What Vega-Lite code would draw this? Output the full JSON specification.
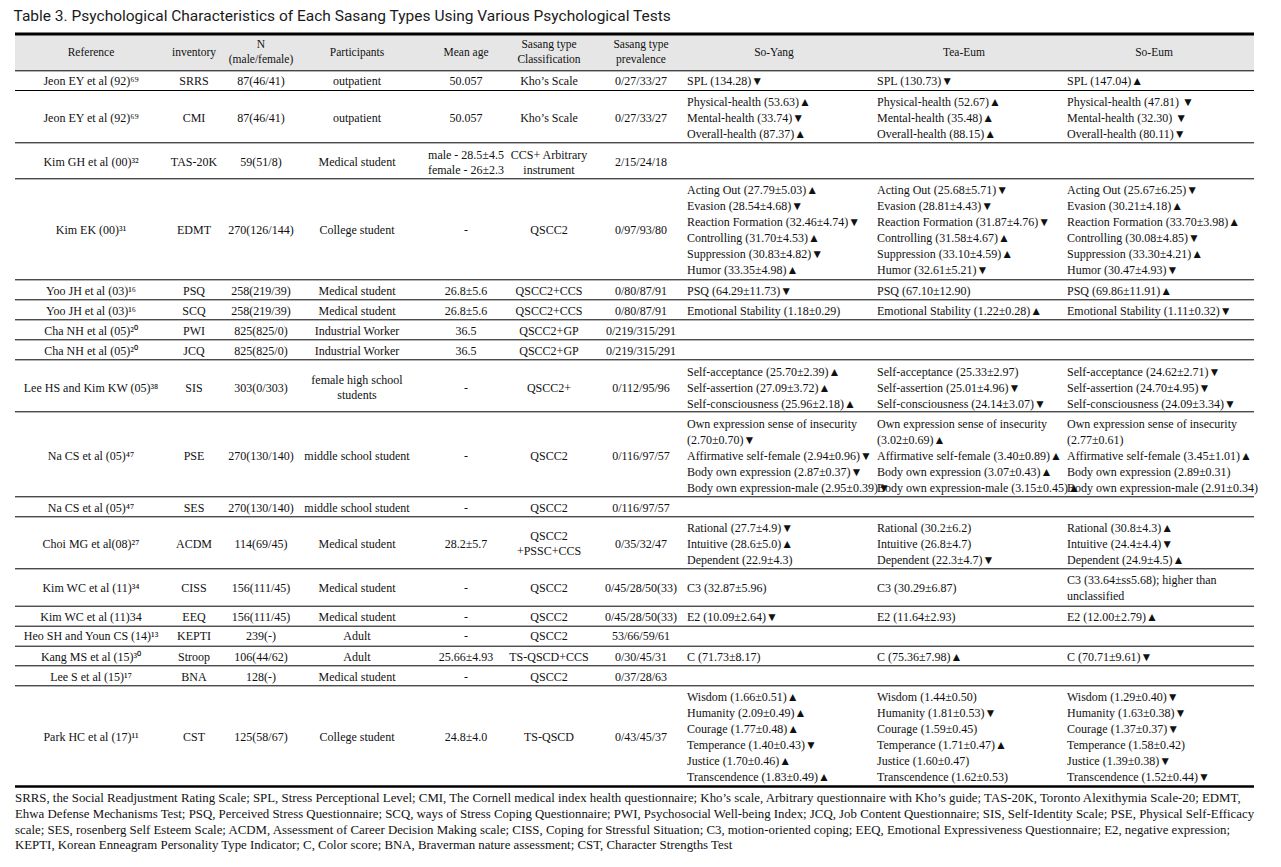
{
  "$schema": "https://vega.github.io/schema/vega-lite/v6.json",
  "background": "white",
  "padding": {"left": 13, "top": 8, "right": 0, "bottom": 0},
  "config": {"view": {"stroke": null}},
  "title": {
    "text": "Table 3. Psychological Characteristics of Each Sasang Types Using Various Psychological Tests",
    "anchor": "start", "font": "Roboto", "fontSize": 15.5, "fontWeight": "normal", "color": "#1a1a1a", "offset": 8.5
  },
  "datasets": {
    "cells": [
      {"r": 0, "c": 0, "lines": ["Reference"]},
      {"r": 0, "c": 1, "lines": ["inventory"]},
      {"r": 0, "c": 2, "lines": ["N", "(male/female)"]},
      {"r": 0, "c": 3, "lines": ["Participants"]},
      {"r": 0, "c": 4, "lines": ["Mean age"]},
      {"r": 0, "c": 5, "lines": ["Sasang type", "Classification"]},
      {"r": 0, "c": 6, "lines": ["Sasang type", "prevalence"]},
      {"r": 0, "c": 7, "lines": ["So-Yang"]},
      {"r": 0, "c": 8, "lines": ["Tea-Eum"]},
      {"r": 0, "c": 9, "lines": ["So-Eum"]},

      {"r": 1, "c": 0, "lines": ["Jeon EY et al (92)⁶⁹"]},
      {"r": 1, "c": 1, "lines": ["SRRS"]},
      {"r": 1, "c": 2, "lines": ["87(46/41)"]},
      {"r": 1, "c": 3, "lines": ["outpatient"]},
      {"r": 1, "c": 4, "lines": ["50.057"]},
      {"r": 1, "c": 5, "lines": ["Kho’s Scale"]},
      {"r": 1, "c": 6, "lines": ["0/27/33/27"]},
      {"r": 1, "c": 7, "lines": ["SPL (134.28)▼"]},
      {"r": 1, "c": 8, "lines": ["SPL (130.73)▼"]},
      {"r": 1, "c": 9, "lines": ["SPL (147.04)▲"]},

      {"r": 2, "c": 0, "lines": ["Jeon EY et al (92)⁶⁹"]},
      {"r": 2, "c": 1, "lines": ["CMI"]},
      {"r": 2, "c": 2, "lines": ["87(46/41)"]},
      {"r": 2, "c": 3, "lines": ["outpatient"]},
      {"r": 2, "c": 4, "lines": ["50.057"]},
      {"r": 2, "c": 5, "lines": ["Kho’s Scale"]},
      {"r": 2, "c": 6, "lines": ["0/27/33/27"]},
      {"r": 2, "c": 7, "lines": ["Physical-health (53.63)▲", "Mental-health (33.74)▼", "Overall-health (87.37)▲"]},
      {"r": 2, "c": 8, "lines": ["Physical-health (52.67)▲", "Mental-health (35.48)▲", "Overall-health (88.15)▲"]},
      {"r": 2, "c": 9, "lines": ["Physical-health (47.81) ▼", "Mental-health (32.30) ▼", "Overall-health (80.11)▼"]},

      {"r": 3, "c": 0, "lines": ["Kim GH et al (00)³²"]},
      {"r": 3, "c": 1, "lines": ["TAS-20K"]},
      {"r": 3, "c": 2, "lines": ["59(51/8)"]},
      {"r": 3, "c": 3, "lines": ["Medical student"]},
      {"r": 3, "c": 4, "lines": ["male - 28.5±4.5", "female - 26±2.3"]},
      {"r": 3, "c": 5, "lines": ["CCS+ Arbitrary", "instrument"]},
      {"r": 3, "c": 6, "lines": ["2/15/24/18"]},

      {"r": 4, "c": 0, "lines": ["Kim EK (00)³¹"]},
      {"r": 4, "c": 1, "lines": ["EDMT"]},
      {"r": 4, "c": 2, "lines": ["270(126/144)"]},
      {"r": 4, "c": 3, "lines": ["College student"]},
      {"r": 4, "c": 4, "lines": ["-"]},
      {"r": 4, "c": 5, "lines": ["QSCC2"]},
      {"r": 4, "c": 6, "lines": ["0/97/93/80"]},
      {"r": 4, "c": 7, "lines": ["Acting Out (27.79±5.03)▲", "Evasion (28.54±4.68)▼", "Reaction Formation (32.46±4.74)▼", "Controlling (31.70±4.53)▲", "Suppression (30.83±4.82)▼", "Humor (33.35±4.98)▲"]},
      {"r": 4, "c": 8, "lines": ["Acting Out (25.68±5.71)▼", "Evasion (28.81±4.43)▼", "Reaction Formation (31.87±4.76)▼", "Controlling (31.58±4.67)▲", "Suppression (33.10±4.59)▲", "Humor (32.61±5.21)▼"]},
      {"r": 4, "c": 9, "lines": ["Acting Out (25.67±6.25)▼", "Evasion (30.21±4.18)▲", "Reaction Formation (33.70±3.98)▲", "Controlling (30.08±4.85)▼", "Suppression (33.30±4.21)▲", "Humor (30.47±4.93)▼"]},

      {"r": 5, "c": 0, "lines": ["Yoo JH et al  (03)¹⁶"]},
      {"r": 5, "c": 1, "lines": ["PSQ"]},
      {"r": 5, "c": 2, "lines": ["258(219/39)"]},
      {"r": 5, "c": 3, "lines": ["Medical student"]},
      {"r": 5, "c": 4, "lines": ["26.8±5.6"]},
      {"r": 5, "c": 5, "lines": ["QSCC2+CCS"]},
      {"r": 5, "c": 6, "lines": ["0/80/87/91"]},
      {"r": 5, "c": 7, "lines": ["PSQ (64.29±11.73)▼"]},
      {"r": 5, "c": 8, "lines": ["PSQ (67.10±12.90)"]},
      {"r": 5, "c": 9, "lines": ["PSQ (69.86±11.91)▲"]},

      {"r": 6, "c": 0, "lines": ["Yoo JH et al (03)¹⁶"]},
      {"r": 6, "c": 1, "lines": ["SCQ"]},
      {"r": 6, "c": 2, "lines": ["258(219/39)"]},
      {"r": 6, "c": 3, "lines": ["Medical student"]},
      {"r": 6, "c": 4, "lines": ["26.8±5.6"]},
      {"r": 6, "c": 5, "lines": ["QSCC2+CCS"]},
      {"r": 6, "c": 6, "lines": ["0/80/87/91"]},
      {"r": 6, "c": 7, "lines": ["Emotional Stability (1.18±0.29)"]},
      {"r": 6, "c": 8, "lines": ["Emotional Stability (1.22±0.28)▲"]},
      {"r": 6, "c": 9, "lines": ["Emotional Stability (1.11±0.32)▼"]},

      {"r": 7, "c": 0, "lines": ["Cha NH et al (05)²⁰"]},
      {"r": 7, "c": 1, "lines": ["PWI"]},
      {"r": 7, "c": 2, "lines": ["825(825/0)"]},
      {"r": 7, "c": 3, "lines": ["Industrial Worker"]},
      {"r": 7, "c": 4, "lines": ["36.5"]},
      {"r": 7, "c": 5, "lines": ["QSCC2+GP"]},
      {"r": 7, "c": 6, "lines": ["0/219/315/291"]},

      {"r": 8, "c": 0, "lines": ["Cha NH et al (05)²⁰"]},
      {"r": 8, "c": 1, "lines": ["JCQ"]},
      {"r": 8, "c": 2, "lines": ["825(825/0)"]},
      {"r": 8, "c": 3, "lines": ["Industrial Worker"]},
      {"r": 8, "c": 4, "lines": ["36.5"]},
      {"r": 8, "c": 5, "lines": ["QSCC2+GP"]},
      {"r": 8, "c": 6, "lines": ["0/219/315/291"]},

      {"r": 9, "c": 0, "lines": ["Lee HS and Kim KW (05)³⁸"]},
      {"r": 9, "c": 1, "lines": ["SIS"]},
      {"r": 9, "c": 2, "lines": ["303(0/303)"]},
      {"r": 9, "c": 3, "lines": ["female high school", "students"]},
      {"r": 9, "c": 4, "lines": ["-"]},
      {"r": 9, "c": 5, "lines": ["QSCC2+"]},
      {"r": 9, "c": 6, "lines": ["0/112/95/96"]},
      {"r": 9, "c": 7, "lines": ["Self-acceptance (25.70±2.39)▲", "Self-assertion (27.09±3.72)▲", "Self-consciousness (25.96±2.18)▲"]},
      {"r": 9, "c": 8, "lines": ["Self-acceptance (25.33±2.97)", "Self-assertion (25.01±4.96)▼", "Self-consciousness (24.14±3.07)▼"]},
      {"r": 9, "c": 9, "lines": ["Self-acceptance (24.62±2.71)▼", "Self-assertion (24.70±4.95)▼", "Self-consciousness (24.09±3.34)▼"]},

      {"r": 10, "c": 0, "lines": ["Na CS et al (05)⁴⁷"]},
      {"r": 10, "c": 1, "lines": ["PSE"]},
      {"r": 10, "c": 2, "lines": ["270(130/140)"]},
      {"r": 10, "c": 3, "lines": ["middle school student"]},
      {"r": 10, "c": 4, "lines": ["-"]},
      {"r": 10, "c": 5, "lines": ["QSCC2"]},
      {"r": 10, "c": 6, "lines": ["0/116/97/57"]},
      {"r": 10, "c": 7, "lines": ["Own expression sense of insecurity", "(2.70±0.70)▼", "Affirmative self-female (2.94±0.96)▼", "Body own expression (2.87±0.37)▼", "Body own expression-male (2.95±0.39)▼"]},
      {"r": 10, "c": 8, "lines": ["Own expression sense of insecurity", "(3.02±0.69)▲", "Affirmative self-female (3.40±0.89)▲", "Body own expression (3.07±0.43)▲", "Body own expression-male (3.15±0.45)▲"]},
      {"r": 10, "c": 9, "lines": ["Own expression sense of insecurity", "(2.77±0.61)", "Affirmative self-female (3.45±1.01)▲", "Body own expression (2.89±0.31)", "Body own expression-male (2.91±0.34)"]},

      {"r": 11, "c": 0, "lines": ["Na CS et al (05)⁴⁷"]},
      {"r": 11, "c": 1, "lines": ["SES"]},
      {"r": 11, "c": 2, "lines": ["270(130/140)"]},
      {"r": 11, "c": 3, "lines": ["middle school student"]},
      {"r": 11, "c": 4, "lines": ["-"]},
      {"r": 11, "c": 5, "lines": ["QSCC2"]},
      {"r": 11, "c": 6, "lines": ["0/116/97/57"]},

      {"r": 12, "c": 0, "lines": ["Choi MG et al(08)²⁷"]},
      {"r": 12, "c": 1, "lines": ["ACDM"]},
      {"r": 12, "c": 2, "lines": ["114(69/45)"]},
      {"r": 12, "c": 3, "lines": ["Medical student"]},
      {"r": 12, "c": 4, "lines": ["28.2±5.7"]},
      {"r": 12, "c": 5, "lines": ["QSCC2", "+PSSC+CCS"]},
      {"r": 12, "c": 6, "lines": ["0/35/32/47"]},
      {"r": 12, "c": 7, "lines": ["Rational (27.7±4.9)▼", "Intuitive (28.6±5.0)▲", "Dependent (22.9±4.3)"]},
      {"r": 12, "c": 8, "lines": ["Rational (30.2±6.2)", "Intuitive (26.8±4.7)", "Dependent (22.3±4.7)▼"]},
      {"r": 12, "c": 9, "lines": ["Rational (30.8±4.3)▲", "Intuitive (24.4±4.4)▼", "Dependent (24.9±4.5)▲"]},

      {"r": 13, "c": 0, "lines": ["Kim WC et al  (11)³⁴"]},
      {"r": 13, "c": 1, "lines": ["CISS"]},
      {"r": 13, "c": 2, "lines": ["156(111/45)"]},
      {"r": 13, "c": 3, "lines": ["Medical student"]},
      {"r": 13, "c": 4, "lines": ["-"]},
      {"r": 13, "c": 5, "lines": ["QSCC2"]},
      {"r": 13, "c": 6, "lines": ["0/45/28/50(33)"]},
      {"r": 13, "c": 7, "lines": ["C3 (32.87±5.96)"]},
      {"r": 13, "c": 8, "lines": ["C3 (30.29±6.87)"]},
      {"r": 13, "c": 9, "lines": ["C3 (33.64±ss5.68); higher than", "unclassified"]},

      {"r": 14, "c": 0, "lines": ["Kim WC et al (11)34"]},
      {"r": 14, "c": 1, "lines": ["EEQ"]},
      {"r": 14, "c": 2, "lines": ["156(111/45)"]},
      {"r": 14, "c": 3, "lines": ["Medical student"]},
      {"r": 14, "c": 4, "lines": ["-"]},
      {"r": 14, "c": 5, "lines": ["QSCC2"]},
      {"r": 14, "c": 6, "lines": ["0/45/28/50(33)"]},
      {"r": 14, "c": 7, "lines": ["E2 (10.09±2.64)▼"]},
      {"r": 14, "c": 8, "lines": ["E2 (11.64±2.93)"]},
      {"r": 14, "c": 9, "lines": ["E2 (12.00±2.79)▲"]},

      {"r": 15, "c": 0, "lines": ["Heo SH and Youn CS (14)¹³"]},
      {"r": 15, "c": 1, "lines": ["KEPTI"]},
      {"r": 15, "c": 2, "lines": ["239(-)"]},
      {"r": 15, "c": 3, "lines": ["Adult"]},
      {"r": 15, "c": 4, "lines": ["-"]},
      {"r": 15, "c": 5, "lines": ["QSCC2"]},
      {"r": 15, "c": 6, "lines": ["53/66/59/61"]},

      {"r": 16, "c": 0, "lines": ["Kang MS et al (15)³⁰"]},
      {"r": 16, "c": 1, "lines": ["Stroop"]},
      {"r": 16, "c": 2, "lines": ["106(44/62)"]},
      {"r": 16, "c": 3, "lines": ["Adult"]},
      {"r": 16, "c": 4, "lines": ["25.66±4.93"]},
      {"r": 16, "c": 5, "lines": ["TS-QSCD+CCS"]},
      {"r": 16, "c": 6, "lines": ["0/30/45/31"]},
      {"r": 16, "c": 7, "lines": ["C (71.73±8.17)"]},
      {"r": 16, "c": 8, "lines": ["C (75.36±7.98)▲"]},
      {"r": 16, "c": 9, "lines": ["C (70.71±9.61)▼"]},

      {"r": 17, "c": 0, "lines": ["Lee S et al (15)¹⁷"]},
      {"r": 17, "c": 1, "lines": ["BNA"]},
      {"r": 17, "c": 2, "lines": ["128(-)"]},
      {"r": 17, "c": 3, "lines": ["Medical student"]},
      {"r": 17, "c": 4, "lines": ["-"]},
      {"r": 17, "c": 5, "lines": ["QSCC2"]},
      {"r": 17, "c": 6, "lines": ["0/37/28/63"]},

      {"r": 18, "c": 0, "lines": ["Park HC et al (17)¹¹"]},
      {"r": 18, "c": 1, "lines": ["CST"]},
      {"r": 18, "c": 2, "lines": ["125(58/67)"]},
      {"r": 18, "c": 3, "lines": ["College student"]},
      {"r": 18, "c": 4, "lines": ["24.8±4.0"]},
      {"r": 18, "c": 5, "lines": ["TS-QSCD"]},
      {"r": 18, "c": 6, "lines": ["0/43/45/37"]},
      {"r": 18, "c": 7, "lines": ["Wisdom (1.66±0.51)▲", "Humanity (2.09±0.49)▲", "Courage (1.77±0.48)▲", "Temperance (1.40±0.43)▼", "Justice (1.70±0.46)▲", "Transcendence (1.83±0.49)▲"]},
      {"r": 18, "c": 8, "lines": ["Wisdom (1.44±0.50)", "Humanity (1.81±0.53)▼", "Courage (1.59±0.45)", "Temperance (1.71±0.47)▲", "Justice (1.60±0.47)", "Transcendence (1.62±0.53)"]},
      {"r": 18, "c": 9, "lines": ["Wisdom (1.29±0.40)▼", "Humanity (1.63±0.38)▼", "Courage (1.37±0.37)▼", "Temperance (1.58±0.42)", "Justice (1.39±0.38)▼", "Transcendence (1.52±0.44)▼"]}
    ],
    "notes": [
      {"i": 1, "t": "SRRS, the Social Readjustment Rating Scale; SPL, Stress Perceptional Level; CMI, The Cornell medical index health questionnaire; Kho’s scale, Arbitrary questionnaire with Kho’s guide; TAS-20K, Toronto Alexithymia Scale-20; EDMT,"},
      {"i": 2, "t": "Ehwa Defense Mechanisms Test; PSQ, Perceived Stress Questionnaire; SCQ, ways of Stress Coping Questionnaire; PWI, Psychosocial Well-being Index; JCQ, Job Content Questionnaire; SIS, Self-Identity Scale; PSE, Physical Self-Efficacy"},
      {"i": 3, "t": "scale; SES, rosenberg Self Esteem Scale; ACDM, Assessment of Career Decision Making scale; CISS, Coping for Stressful Situation; C3, motion-oriented coping; EEQ, Emotional Expressiveness Questionnaire; E2, negative expression;"},
      {"i": 4, "t": "KEPTI, Korean Enneagram Personality Type Indicator; C, Color score; BNA, Braverman nature assessment; CST, Character Strengths Test"}
    ]
  },
  "spacing": 2,
  "vconcat": [
    {
      "width": 1239,
      "height": 753,
      "data": {"name": "cells"},
      "resolve": {"scale": {"y": "independent"}},
      "layer": [
        {
          "encoding": {
            "y": {"field": "r", "type": "quantitative", "axis": null,
              "scale": {"zero": false, "nice": false,
                "domain": [0,1,2,3,4,5,6,7,8,9,10,11,12,13,14,15,16,17,18],
                "range": [36.8,56.5,108.8,144.8,245.8,265.8,285.8,305.8,325.8,377.8,462.8,482.8,534.8,572.2,592.2,612.2,631.8,651.8,752.5]}}
          },
          "layer": [
            {
              "transform": [{"filter": "datum.r == 0 && datum.c == 0"}],
              "mark": {"type": "rect", "color": "#e6e6e6"},
              "encoding": {"y2": {"value": 0}, "x": {"value": 0}, "x2": {"value": "width"}}
            },
            {
              "transform": [{"filter": "datum.c == 0"}],
              "mark": {"type": "rule", "color": "#000000"},
              "encoding": {
                "x": {"value": 0}, "x2": {"value": "width"},
                "strokeWidth": {"condition": {"test": "datum.r == 18", "value": 2.5}, "value": 1}
              }
            }
          ]
        },
        {
          "transform": [{"filter": "datum.r == 0 && datum.c == 0"}],
          "mark": {"type": "rule", "color": "#000000", "strokeWidth": 3},
          "encoding": {"x": {"value": 0}, "x2": {"value": "width"}, "y": {"value": 0}}
        },
        {
          "encoding": {
            "x": {"field": "c", "type": "quantitative", "axis": null,
              "scale": {"zero": false, "nice": false,
                "domain": [0,1,2,3,4,5,6,7,8,9],
                "range": [76,179,246,342,451,534,626,672,862,1052]}},
            "y": {"field": "r", "type": "quantitative", "axis": null,
              "scale": {"zero": false, "nice": false,
                "domain": [0,1,2,3,4,5,6,7,8,9,10,11,12,13,14,15,16,17,18],
                "range": [18.5,47,83.5,128,196,256.8,276.8,296.5,316.5,353.5,421.5,473.5,509.5,554,582.5,602.2,622.5,642.5,702.5]}},
            "text": {"field": "lines", "type": "nominal"}
          },
          "layer": [
            {
              "transform": [{"filter": "datum.r == 0 && datum.c <= 6"}],
              "mark": {"type": "text", "font": "Liberation Serif", "fontSize": 11.5, "align": "center", "baseline": "middle", "lineHeight": 14.5, "color": "#111111",
                "dy": {"expr": "-(length(datum.lines) - 1) * 7.25"}}
            },
            {
              "transform": [{"filter": "datum.r == 0 && datum.c >= 7"}],
              "mark": {"type": "text", "font": "Liberation Serif", "fontSize": 11.5, "align": "center", "baseline": "middle", "lineHeight": 14.5, "dx": 87, "color": "#111111"}
            },
            {
              "transform": [{"filter": "datum.r > 0 && datum.c <= 6"}],
              "mark": {"type": "text", "font": "Liberation Serif", "fontSize": 12, "align": "center", "baseline": "middle", "lineHeight": 15, "color": "#111111",
                "dy": {"expr": "-(length(datum.lines) - 1) * 7.5"}}
            },
            {
              "transform": [{"filter": "datum.r > 0 && datum.c >= 7"}],
              "mark": {"type": "text", "font": "Liberation Serif", "fontSize": 12, "align": "left", "baseline": "middle", "lineHeight": 16, "color": "#111111",
                "dy": {"expr": "-(length(datum.lines) - 1) * 8"}}
            }
          ]
        }
      ]
    },
    {
      "width": 1239,
      "height": {"step": 15.8},
      "data": {"name": "notes"},
      "mark": {"type": "text", "font": "Liberation Serif", "fontSize": 12.85, "align": "left", "baseline": "middle", "color": "#111111"},
      "encoding": {
        "y": {"field": "i", "type": "ordinal", "axis": null, "scale": {"type": "band", "paddingInner": 0, "paddingOuter": 0}},
        "x": {"value": 0},
        "text": {"field": "t", "type": "nominal"}
      }
    }
  ]
}
